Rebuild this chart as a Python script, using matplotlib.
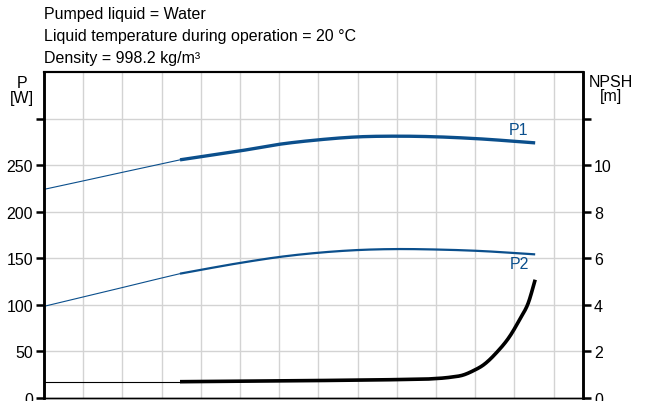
import numpy as np
import matplotlib.pyplot as plt

plt.rcParams['font.family'] = ['Liberation Sans', 'DejaVu Sans']

# flow in grid units (one vertical grid line per unit)
p1_thin_x = [0.0, 1.0, 2.0, 3.0, 3.47]
p1_thin_y = [224, 233.1, 242.3, 251.4, 255.7]
p1_x = [3.47, 5.0, 6.02, 6.96, 7.98, 9.0, 10.02, 11.05, 12.53]
p1_y = [255.7, 265.3, 272.5, 277.0, 280.3, 281.1, 280.4, 278.4, 273.9]

p2_thin_x = [0.0, 1.0, 2.0, 3.0, 3.47]
p2_thin_y = [98.4, 108.5, 118.6, 128.8, 133.5]
p2_x = [3.47, 5.0, 6.02, 6.96, 7.98, 9.0, 10.02, 11.05, 12.53]
p2_y = [133.5, 145.0, 151.5, 155.8, 158.8, 159.9, 159.4, 158.0, 154.2]

npsh_thin_x = [0.0, 3.47]
npsh_thin_y = [0.7, 0.7]
npsh_x = [3.47, 5.0, 7.0, 9.0, 9.85, 10.36, 10.70, 10.95, 11.21, 11.55, 11.89, 12.14, 12.36, 12.53]
npsh_y = [0.7, 0.72, 0.75, 0.79, 0.82, 0.89, 0.99, 1.17, 1.42, 1.96, 2.67, 3.39, 4.11, 5.08]

p_ticks = [0, 50, 100, 150, 200, 250, 300]
p_labels = ['0', '50', '100', '150', '200', '250', '']
npsh_ticks = [0, 2, 4, 6, 8, 10, 12]
npsh_labels = ['0', '2', '4', '6', '8', '10', '']

blue = '#0b4f8c'


def smooth(xs, ys, n=25):
    # cubic hermite through the read points, only for drawing
    xs = np.asarray(xs, float)
    ys = np.asarray(ys, float)
    m = np.gradient(ys, xs)
    out_x, out_y = [], []
    for i in range(len(xs) - 1):
        h = xs[i+1] - xs[i]
        t = np.linspace(0, 1, n, endpoint=False)
        h00 = 2*t**3 - 3*t**2 + 1
        h10 = t**3 - 2*t**2 + t
        h01 = -2*t**3 + 3*t**2
        h11 = t**3 - t**2
        out_x.extend(xs[i] + t*h)
        out_y.extend(h00*ys[i] + h10*h*m[i] + h01*ys[i+1] + h11*h*m[i+1])
    out_x.append(xs[-1])
    out_y.append(ys[-1])
    return out_x, out_y


fig = plt.figure(figsize=(6.49, 4.02), dpi=100)
ax = fig.add_axes([44/649, 1-399/402, 539/649, 326/402])
ax2 = ax.twinx()

# grid
for gx in range(1, 14):
    ax.axvline(gx, color='#d3d3d3', lw=1, zorder=0)
for gy in range(50, 350, 50):
    ax.axhline(gy, color='#d3d3d3', lw=1, zorder=0)

ax.plot(*smooth(p1_thin_x, p1_thin_y), color=blue, lw=0.8)
ax.plot(*smooth(p1_x, p1_y), color=blue, lw=2.4, solid_capstyle='butt')
ax.plot(*smooth(p2_thin_x, p2_thin_y), color=blue, lw=0.8)
ax.plot(*smooth(p2_x, p2_y), color=blue, lw=1.6, solid_capstyle='butt')
ax.text(12.1, 288, 'P1', color=blue, fontsize=11.5, ha='center', va='center')
ax.text(12.12, 144, 'P2', color=blue, fontsize=11.5, ha='center', va='center')

ax2.plot(npsh_thin_x, npsh_thin_y, color='black', lw=0.8)
ax2.plot(*smooth(npsh_x, npsh_y), color='black', lw=2.6, solid_capstyle='butt')

ax.set_xlim(0, 13.75)
ax.set_ylim(0, 350)
ax2.set_ylim(0, 14)
ax.set_xticks([])
ax.set_yticks(p_ticks)
ax.set_yticklabels(p_labels)
ax2.set_yticks(npsh_ticks)
ax2.set_yticklabels(npsh_labels)

for a in (ax, ax2):
    a.tick_params(axis='y', length=6, width=1.8, labelsize=11.5, pad=2)
    a.spines['left'].set_linewidth(1.8)
    a.spines['right'].set_linewidth(1.8)
    a.spines['top'].set_linewidth(1.5)
    a.spines['bottom'].set_linewidth(1.0)

ax.text(-0.041, 0.99, 'P\n[W]', transform=ax.transAxes, ha='center', va='top',
        fontsize=11.5, linespacing=0.95)
ax2.text(1.052, 0.995, 'NPSH\n[m]', transform=ax2.transAxes, ha='center', va='top',
         fontsize=11.5, linespacing=0.95)

fig.text(44/649, 1-15/402, 'Pumped liquid = Water', fontsize=11.5, va='center')
fig.text(44/649, 1-37/402, 'Liquid temperature during operation = 20 °C', fontsize=11.5, va='center')
fig.text(44/649, 1-59/402, 'Density = 998.2 kg/m³', fontsize=11.5, va='center')

fig.savefig('out.png', dpi=100)
